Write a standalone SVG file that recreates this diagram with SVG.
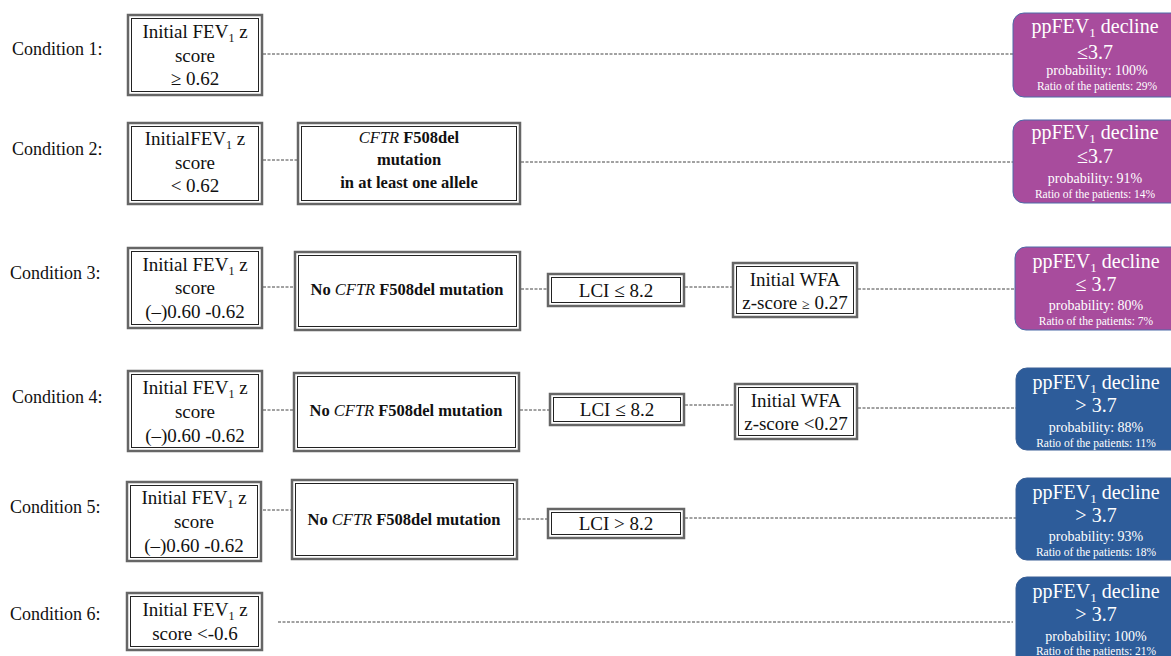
<svg xmlns="http://www.w3.org/2000/svg" width="1171" height="656" viewBox="0 0 1171 656">
<defs>
<style>
.bg{fill:#ffffff}
.lab{font-family:"Liberation Serif",serif;font-size:18px;fill:#111}
.bo{fill:#fff;stroke:#666;stroke-width:2.5}
.bi{fill:none;stroke:#222;stroke-width:1}
.t{font-family:"Liberation Serif",serif;font-size:19px;fill:#111;text-anchor:middle}
.tb{font-family:"Liberation Serif",serif;font-size:16.5px;font-weight:bold;fill:#111;text-anchor:middle}
.conn line{stroke:#444;stroke-width:1;stroke-dasharray:3,1.5}
.pur{fill:#a84c9d;stroke:#4d6aa8;stroke-width:1}
.blu{fill:#2d5c9a;stroke:#3a5f95;stroke-width:1}
.o1{font-family:"Liberation Serif",serif;font-size:20px;fill:#fff;text-anchor:middle}
.o3{font-family:"Liberation Serif",serif;font-size:14px;fill:#fff;text-anchor:middle}
.o4{font-family:"Liberation Serif",serif;font-size:11.5px;fill:#fff;text-anchor:middle}
</style>
</defs>
<rect class="bg" x="0" y="0" width="1171" height="656"/>

<g id="labels">
<text class="lab" x="12" y="55">Condition 1:</text>
<text class="lab" x="12" y="155">Condition 2:</text>
<text class="lab" x="10" y="279">Condition 3:</text>
<text class="lab" x="12" y="403">Condition 4:</text>
<text class="lab" x="10" y="513">Condition 5:</text>
<text class="lab" x="10" y="620">Condition 6:</text>
</g>

<g id="connectors" class="conn">
<line x1="263" y1="54" x2="1013" y2="54"/>
<line x1="263" y1="160" x2="298" y2="160"/>
<line x1="521" y1="162" x2="1013" y2="162"/>
<line x1="263" y1="287" x2="295" y2="287"/>
<line x1="521" y1="289" x2="548" y2="289"/>
<line x1="685" y1="287" x2="733" y2="287"/>
<line x1="858" y1="289" x2="1015" y2="289"/>
<line x1="263" y1="410" x2="294" y2="410"/>
<line x1="520" y1="410" x2="550" y2="410"/>
<line x1="685" y1="405" x2="735" y2="405"/>
<line x1="858" y1="408" x2="1016" y2="408"/>
<line x1="263" y1="510" x2="292" y2="510"/>
<line x1="518" y1="519" x2="548" y2="519"/>
<line x1="685" y1="518" x2="1016" y2="518"/>
<line x1="278" y1="622" x2="1013" y2="622"/>
</g>

<!-- Row 1 -->
<g id="c1-fev">
<rect class="bo" x="128" y="15" width="134" height="80"/>
<rect class="bi" x="131.5" y="18.5" width="127" height="73"/>
<text class="t" x="195" y="38">Initial FEV<tspan font-size="12" dy="4">1</tspan><tspan dy="-4"> z</tspan></text>
<text class="t" x="195" y="62">score</text>
<text class="t" x="195" y="85">≥ 0.62</text>
</g>
<g id="c1-out">
<rect class="pur" x="1013" y="13" width="170" height="84" rx="11"/>
<text class="o1" x="1095" y="33">ppFEV<tspan font-size="13" dy="4">1</tspan><tspan dy="-4"> decline</tspan></text>
<text class="o1" x="1095" y="59">≤3.7</text>
<text class="o3" x="1097" y="75">probability: 100%</text>
<text class="o4" x="1097" y="90">Ratio of the patients: 29%</text>
</g>

<!-- Row 2 -->
<g id="c2-fev">
<rect class="bo" x="128" y="123" width="134" height="81"/>
<rect class="bi" x="131.5" y="126.5" width="127" height="74"/>
<text class="t" x="195" y="145">InitialFEV<tspan font-size="12" dy="4">1</tspan><tspan dy="-4"> z</tspan></text>
<text class="t" x="195" y="169">score</text>
<text class="t" x="195" y="192">&lt; 0.62</text>
</g>
<g id="c2-cftr">
<rect class="bo" x="298" y="123" width="222" height="81"/>
<rect class="bi" x="301.5" y="126.5" width="215" height="74"/>
<text class="tb" x="409" y="143"><tspan font-style="italic" font-weight="normal">CFTR</tspan> F508del</text>
<text class="tb" x="409" y="165">mutation</text>
<text class="tb" x="409" y="188">in at least one allele</text>
</g>
<g id="c2-out">
<rect class="pur" x="1013" y="120" width="170" height="83" rx="11"/>
<text class="o1" x="1095" y="139">ppFEV<tspan font-size="13" dy="4">1</tspan><tspan dy="-4"> decline</tspan></text>
<text class="o1" x="1095" y="163">≤3.7</text>
<text class="o3" x="1095" y="183">probability: 91%</text>
<text class="o4" x="1095" y="198">Ratio of the patients: 14%</text>
</g>

<!-- Row 3 -->
<g id="c3-fev">
<rect class="bo" x="128" y="248" width="134" height="80"/>
<rect class="bi" x="131.5" y="251.5" width="127" height="73"/>
<text class="t" x="195" y="271">Initial FEV<tspan font-size="12" dy="4">1</tspan><tspan dy="-4"> z</tspan></text>
<text class="t" x="195" y="294">score</text>
<text class="t" x="195" y="318">(–)0.60 -0.62</text>
</g>
<g id="c3-cftr">
<rect class="bo" x="295" y="252" width="225" height="78"/>
<rect class="bi" x="298.5" y="255.5" width="218" height="71"/>
<text class="tb" x="407" y="295">No <tspan font-style="italic" font-weight="normal">CFTR</tspan> F508del mutation</text>
</g>
<g id="c3-lci">
<rect class="bo" x="548" y="274" width="136" height="32"/>
<rect class="bi" x="551.5" y="277.5" width="129" height="25"/>
<text class="t" x="616" y="297">LCI ≤ 8.2</text>
</g>
<g id="c3-wfa">
<rect class="bo" x="733" y="263" width="124" height="54"/>
<rect class="bi" x="736.5" y="266.5" width="117" height="47"/>
<text class="t" x="795" y="286">Initial WFA</text>
<text class="t" x="795" y="309">z-score <tspan font-size="14">≥</tspan> 0.27</text>
</g>
<g id="c3-out">
<rect class="pur" x="1015" y="247" width="170" height="83" rx="11"/>
<text class="o1" x="1096" y="268">ppFEV<tspan font-size="13" dy="4">1</tspan><tspan dy="-4"> decline</tspan></text>
<text class="o1" x="1096" y="291">≤ 3.7</text>
<text class="o3" x="1096" y="310">probability: 80%</text>
<text class="o4" x="1096" y="325">Ratio of the patients: 7%</text>
</g>

<!-- Row 4 -->
<g id="c4-fev">
<rect class="bo" x="128" y="371" width="134" height="80"/>
<rect class="bi" x="131.5" y="374.5" width="127" height="73"/>
<text class="t" x="195" y="394">Initial FEV<tspan font-size="12" dy="4">1</tspan><tspan dy="-4"> z</tspan></text>
<text class="t" x="195" y="418">score</text>
<text class="t" x="195" y="442">(–)0.60 -0.62</text>
</g>
<g id="c4-cftr">
<rect class="bo" x="294" y="373" width="225" height="78"/>
<rect class="bi" x="297.5" y="376.5" width="218" height="71"/>
<text class="tb" x="406" y="416">No <tspan font-style="italic" font-weight="normal">CFTR</tspan> F508del mutation</text>
</g>
<g id="c4-lci">
<rect class="bo" x="550" y="394" width="134" height="31"/>
<rect class="bi" x="553.5" y="397.5" width="127" height="24"/>
<text class="t" x="617" y="416">LCI ≤ 8.2</text>
</g>
<g id="c4-wfa">
<rect class="bo" x="735" y="384" width="122" height="55"/>
<rect class="bi" x="738.5" y="387.5" width="115" height="48"/>
<text class="t" x="796" y="407">Initial WFA</text>
<text class="t" x="796" y="430">z-score &lt;0.27</text>
</g>
<g id="c4-out">
<rect class="blu" x="1016" y="368" width="170" height="82" rx="11"/>
<text class="o1" x="1096" y="389">ppFEV<tspan font-size="13" dy="4">1</tspan><tspan dy="-4"> decline</tspan></text>
<text class="o1" x="1096" y="412">&gt; 3.7</text>
<text class="o3" x="1096" y="432">probability: 88%</text>
<text class="o4" x="1096" y="447">Ratio of the patients: 11%</text>
</g>

<!-- Row 5 -->
<g id="c5-fev">
<rect class="bo" x="127" y="482" width="134" height="79"/>
<rect class="bi" x="130.5" y="485.5" width="127" height="72"/>
<text class="t" x="194" y="504">Initial FEV<tspan font-size="12" dy="4">1</tspan><tspan dy="-4"> z</tspan></text>
<text class="t" x="194" y="528">score</text>
<text class="t" x="194" y="552">(–)0.60 -0.62</text>
</g>
<g id="c5-cftr">
<rect class="bo" x="292" y="480" width="225" height="79"/>
<rect class="bi" x="295.5" y="483.5" width="218" height="72"/>
<text class="tb" x="404" y="525">No <tspan font-style="italic" font-weight="normal">CFTR</tspan> F508del mutation</text>
</g>
<g id="c5-lci">
<rect class="bo" x="548" y="509" width="136" height="29"/>
<rect class="bi" x="551.5" y="512.5" width="129" height="22"/>
<text class="t" x="616" y="530">LCI &gt; 8.2</text>
</g>
<g id="c5-out">
<rect class="blu" x="1016" y="478" width="170" height="82" rx="11"/>
<text class="o1" x="1096" y="499">ppFEV<tspan font-size="13" dy="4">1</tspan><tspan dy="-4"> decline</tspan></text>
<text class="o1" x="1096" y="522">&gt; 3.7</text>
<text class="o3" x="1096" y="541">probability: 93%</text>
<text class="o4" x="1096" y="556">Ratio of the patients: 18%</text>
</g>

<!-- Row 6 -->
<g id="c6-fev">
<rect class="bo" x="127" y="593" width="135" height="57"/>
<rect class="bi" x="130.5" y="596.5" width="128" height="50"/>
<text class="t" x="195" y="616">Initial FEV<tspan font-size="12" dy="4">1</tspan><tspan dy="-4"> z</tspan></text>
<text class="t" x="195" y="640">score  &lt;-0.6</text>
</g>
<g id="c6-out">
<rect class="blu" x="1016" y="577" width="170" height="90" rx="11"/>
<text class="o1" x="1096" y="598">ppFEV<tspan font-size="13" dy="4">1</tspan><tspan dy="-4"> decline</tspan></text>
<text class="o1" x="1096" y="621">&gt; 3.7</text>
<text class="o3" x="1096" y="641">probability: 100%</text>
<text class="o4" x="1096" y="655">Ratio of the patients: 21%</text>
</g>
</svg>
